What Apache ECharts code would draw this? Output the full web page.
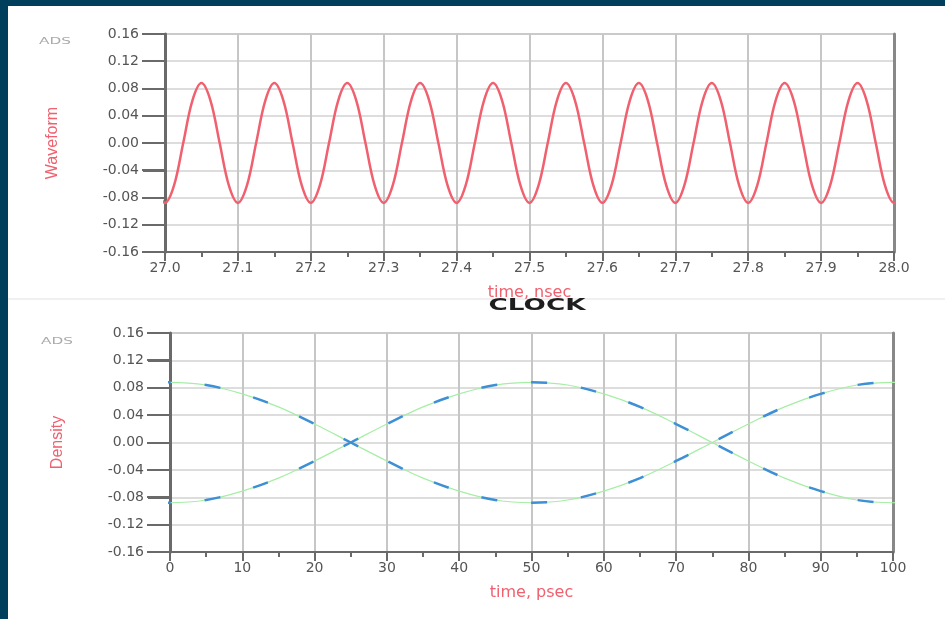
<!DOCTYPE html>
<html>
<head>
<meta charset="utf-8">
<title>CLOCK</title>
<script src="https://cdn.jsdelivr.net/npm/echarts@6/dist/echarts.min.js"></script>
<style>
  html, body { margin: 0; padding: 0; background: #003f5b; }
  #paper { position: absolute; left: 8px; top: 6px; width: 937px; height: 613px; background: #ffffff; }
  #main { position: absolute; left: 0; top: 0; width: 945px; height: 619px; }
</style>
</head>
<body>
<div id="paper"></div>
<div id="main"></div>
<script>
// top panel: clock waveform, 27.0 .. 28.0 nsec, 8 samples per period
// (one sample either side of the window keeps the ends smooth; the grid clips them)
var timeNs = [
  26.9875,
  27.0, 27.0125, 27.025, 27.0375, 27.05, 27.0625, 27.075, 27.0875,
  27.1, 27.1125, 27.125, 27.1375, 27.15, 27.1625, 27.175, 27.1875,
  27.2, 27.2125, 27.225, 27.2375, 27.25, 27.2625, 27.275, 27.2875,
  27.3, 27.3125, 27.325, 27.3375, 27.35, 27.3625, 27.375, 27.3875,
  27.4, 27.4125, 27.425, 27.4375, 27.45, 27.4625, 27.475, 27.4875,
  27.5, 27.5125, 27.525, 27.5375, 27.55, 27.5625, 27.575, 27.5875,
  27.6, 27.6125, 27.625, 27.6375, 27.65, 27.6625, 27.675, 27.6875,
  27.7, 27.7125, 27.725, 27.7375, 27.75, 27.7625, 27.775, 27.7875,
  27.8, 27.8125, 27.825, 27.8375, 27.85, 27.8625, 27.875, 27.8875,
  27.9, 27.9125, 27.925, 27.9375, 27.95, 27.9625, 27.975, 27.9875,
  28.0, 28.0125
];
var waveform = [
  -0.062,
  -0.088, -0.062, 0, 0.062, 0.088, 0.062, 0, -0.062,
  -0.088, -0.062, 0, 0.062, 0.088, 0.062, 0, -0.062,
  -0.088, -0.062, 0, 0.062, 0.088, 0.062, 0, -0.062,
  -0.088, -0.062, 0, 0.062, 0.088, 0.062, 0, -0.062,
  -0.088, -0.062, 0, 0.062, 0.088, 0.062, 0, -0.062,
  -0.088, -0.062, 0, 0.062, 0.088, 0.062, 0, -0.062,
  -0.088, -0.062, 0, 0.062, 0.088, 0.062, 0, -0.062,
  -0.088, -0.062, 0, 0.062, 0.088, 0.062, 0, -0.062,
  -0.088, -0.062, 0, 0.062, 0.088, 0.062, 0, -0.062,
  -0.088, -0.062, 0, 0.062, 0.088, 0.062, 0, -0.062,
  -0.088, -0.062
];

// bottom panel: eye diagram, 0 .. 100 psec
var timePs = [-5, 0, 5, 10, 15, 20, 25, 30, 35, 40, 45, 50, 55, 60, 65, 70, 75, 80, 85, 90, 95, 100, 105];
var densityHigh = [0.084, 0.088, 0.084, 0.071, 0.052, 0.027, 0, -0.027, -0.052, -0.071, -0.084, -0.088,
                   -0.084, -0.071, -0.052, -0.027, 0, 0.027, 0.052, 0.071, 0.084, 0.088, 0.084];
var densityLow = [-0.084, -0.088, -0.084, -0.071, -0.052, -0.027, 0, 0.027, 0.052, 0.071, 0.084, 0.088,
                  0.084, 0.071, 0.052, 0.027, 0, -0.027, -0.052, -0.071, -0.084, -0.088, -0.084];

// y tick values shared by both panels
var yTicks = [-0.16, -0.12, -0.08, -0.04, 0, 0.04, 0.08, 0.12, 0.16];

function pairs(xs, ys) {
  return xs.map(function (x, i) { return [x, ys[i]]; });
}

var labelFont = 'DejaVu Sans';
var red = '#f0606e';
var axisGray = '#6a6a6a';

function bottomAxis(grid, min, max, step, digits, name) {
  return {
    gridIndex: grid, type: 'value', position: 'bottom',
    min: min, max: max, interval: step,
    axisLine: { onZero: false, lineStyle: { color: axisGray, width: 2 } },
    axisTick: { show: true, inside: false, length: 9, lineStyle: { color: axisGray, width: 2 } },
    minorTick: { show: true, splitNumber: 2, length: 5, lineStyle: { color: axisGray, width: 2 } },
    axisLabel: {
      color: '#555', fontSize: 14, fontFamily: labelFont, margin: 9,
      formatter: function (v) { return v.toFixed(digits); }
    },
    splitLine: { show: true, lineStyle: { color: '#c6c6c6', width: 2 } },
    name: name, nameLocation: 'middle', nameGap: 33,
    nameTextStyle: { color: red, fontSize: 16, fontFamily: labelFont }
  };
}
function leftAxis(grid, name) {
  return {
    gridIndex: grid, type: 'value', position: 'left',
    min: -0.16, max: 0.16, interval: 0.04,
    axisLine: { show: true, onZero: false, lineStyle: { color: axisGray, width: 3 } },
    axisTick: { show: true, inside: false, length: 22, lineStyle: { color: axisGray, width: 2 } },
    axisLabel: {
      color: '#555', fontSize: 14, fontFamily: labelFont, margin: 26,
      formatter: function (v) { return v.toFixed(2); }
    },
    splitLine: { show: true, lineStyle: { color: '#d2d2d2', width: 1.5 } },
    name: name, nameLocation: 'middle', nameRotate: 90, nameGap: 104,
    nameTextStyle: { color: red, fontSize: 16, fontFamily: 'Liberation Sans' }
  };
}
function rightBorder(grid) {
  return {
    gridIndex: grid, type: 'value', position: 'right', min: -0.16, max: 0.16,
    axisLine: { show: true, onZero: false, lineStyle: { color: '#888888', width: 3 } },
    axisTick: { show: false }, axisLabel: { show: false }, splitLine: { show: false }
  };
}

var chart = echarts.init(document.getElementById('main'), null, { renderer: 'canvas' });

var decorations = [
  { type: 'line', shape: { x1: 8, y1: 299, x2: 945, y2: 299 }, style: { stroke: '#ebebeb', lineWidth: 1.5 } },
  { type: 'text', x: 39, y: 42, scaleX: 1.7, style: { text: 'ADS', font: '9px "DejaVu Sans"', fill: '#aaaaaa', verticalAlign: 'middle' } },
  { type: 'text', x: 41, y: 342, scaleX: 1.7, style: { text: 'ADS', font: '9px "DejaVu Sans"', fill: '#aaaaaa', verticalAlign: 'middle' } },
  { type: 'text', x: 537, y: 306, scaleX: 1.75, style: { text: 'CLOCK', font: 'bold 15px "DejaVu Sans"', fill: '#1e1e1e', align: 'center', verticalAlign: 'middle' } }
];

var option = {
  animation: false,
  backgroundColor: 'transparent',
  grid: [
    { left: 165, right: 51, top: 34, height: 218, show: true, borderColor: '#9a9a9a', borderWidth: 1.5 },
    { left: 170, right: 52, top: 333, height: 219, show: true, borderColor: '#9a9a9a', borderWidth: 1.5 }
  ],
  xAxis: [
    bottomAxis(0, 27.0, 28.0, 0.1, 1, 'time, nsec'),
    bottomAxis(1, 0, 100, 10, 0, 'time, psec')
  ],
  yAxis: [
    leftAxis(0, 'Waveform'),
    rightBorder(0),
    leftAxis(1, 'Density'),
    rightBorder(1)
  ],
  graphic: decorations,
  series: [
    {
      name: 'Waveform', type: 'line', xAxisIndex: 0, yAxisIndex: 0,
      data: pairs(timeNs, waveform), smooth: 0.35, showSymbol: false, clip: true,
      lineStyle: { color: red, width: 2.5 }
    },
    {
      type: 'line', xAxisIndex: 1, yAxisIndex: 2,
      data: pairs(timePs, densityHigh), smooth: 0.35, showSymbol: false, clip: true,
      lineStyle: { color: '#a6eea6', width: 1.2 }
    },
    {
      type: 'line', xAxisIndex: 1, yAxisIndex: 2,
      data: pairs(timePs, densityLow), smooth: 0.35, showSymbol: false, clip: true,
      lineStyle: { color: '#a6eea6', width: 1.2 }
    },
    {
      type: 'line', xAxisIndex: 1, yAxisIndex: 2,
      data: pairs(timePs, densityHigh), smooth: 0.35, showSymbol: false, clip: true,
      lineStyle: { color: '#3d8fd6', width: 2.5, type: [16, 34], dashOffset: 29 }
    },
    {
      type: 'line', xAxisIndex: 1, yAxisIndex: 2,
      data: pairs(timePs, densityLow), smooth: 0.35, showSymbol: false, clip: true,
      lineStyle: { color: '#3d8fd6', width: 2.5, type: [16, 34], dashOffset: 29 }
    }
  ]
};

chart.setOption(option);

// outward y ticks, placed through the axes' own scales
var tickMarks = [];
[[0, 0, 27.0], [2, 1, 0]].forEach(function (p) {
  var x0 = chart.convertToPixel({ xAxisIndex: p[1] }, p[2]);
  yTicks.forEach(function (v) {
    var y = Math.round(chart.convertToPixel({ yAxisIndex: p[0] }, v));
    tickMarks.push({
      type: 'rect', z: 100, silent: true,
      shape: { x: x0 - 23, y: y - 1, width: 23, height: 2 },
      style: { fill: '#6a6a6a' }
    });
  });
});
chart.setOption({ graphic: decorations.concat(tickMarks) });
</script>
</body>
</html>
